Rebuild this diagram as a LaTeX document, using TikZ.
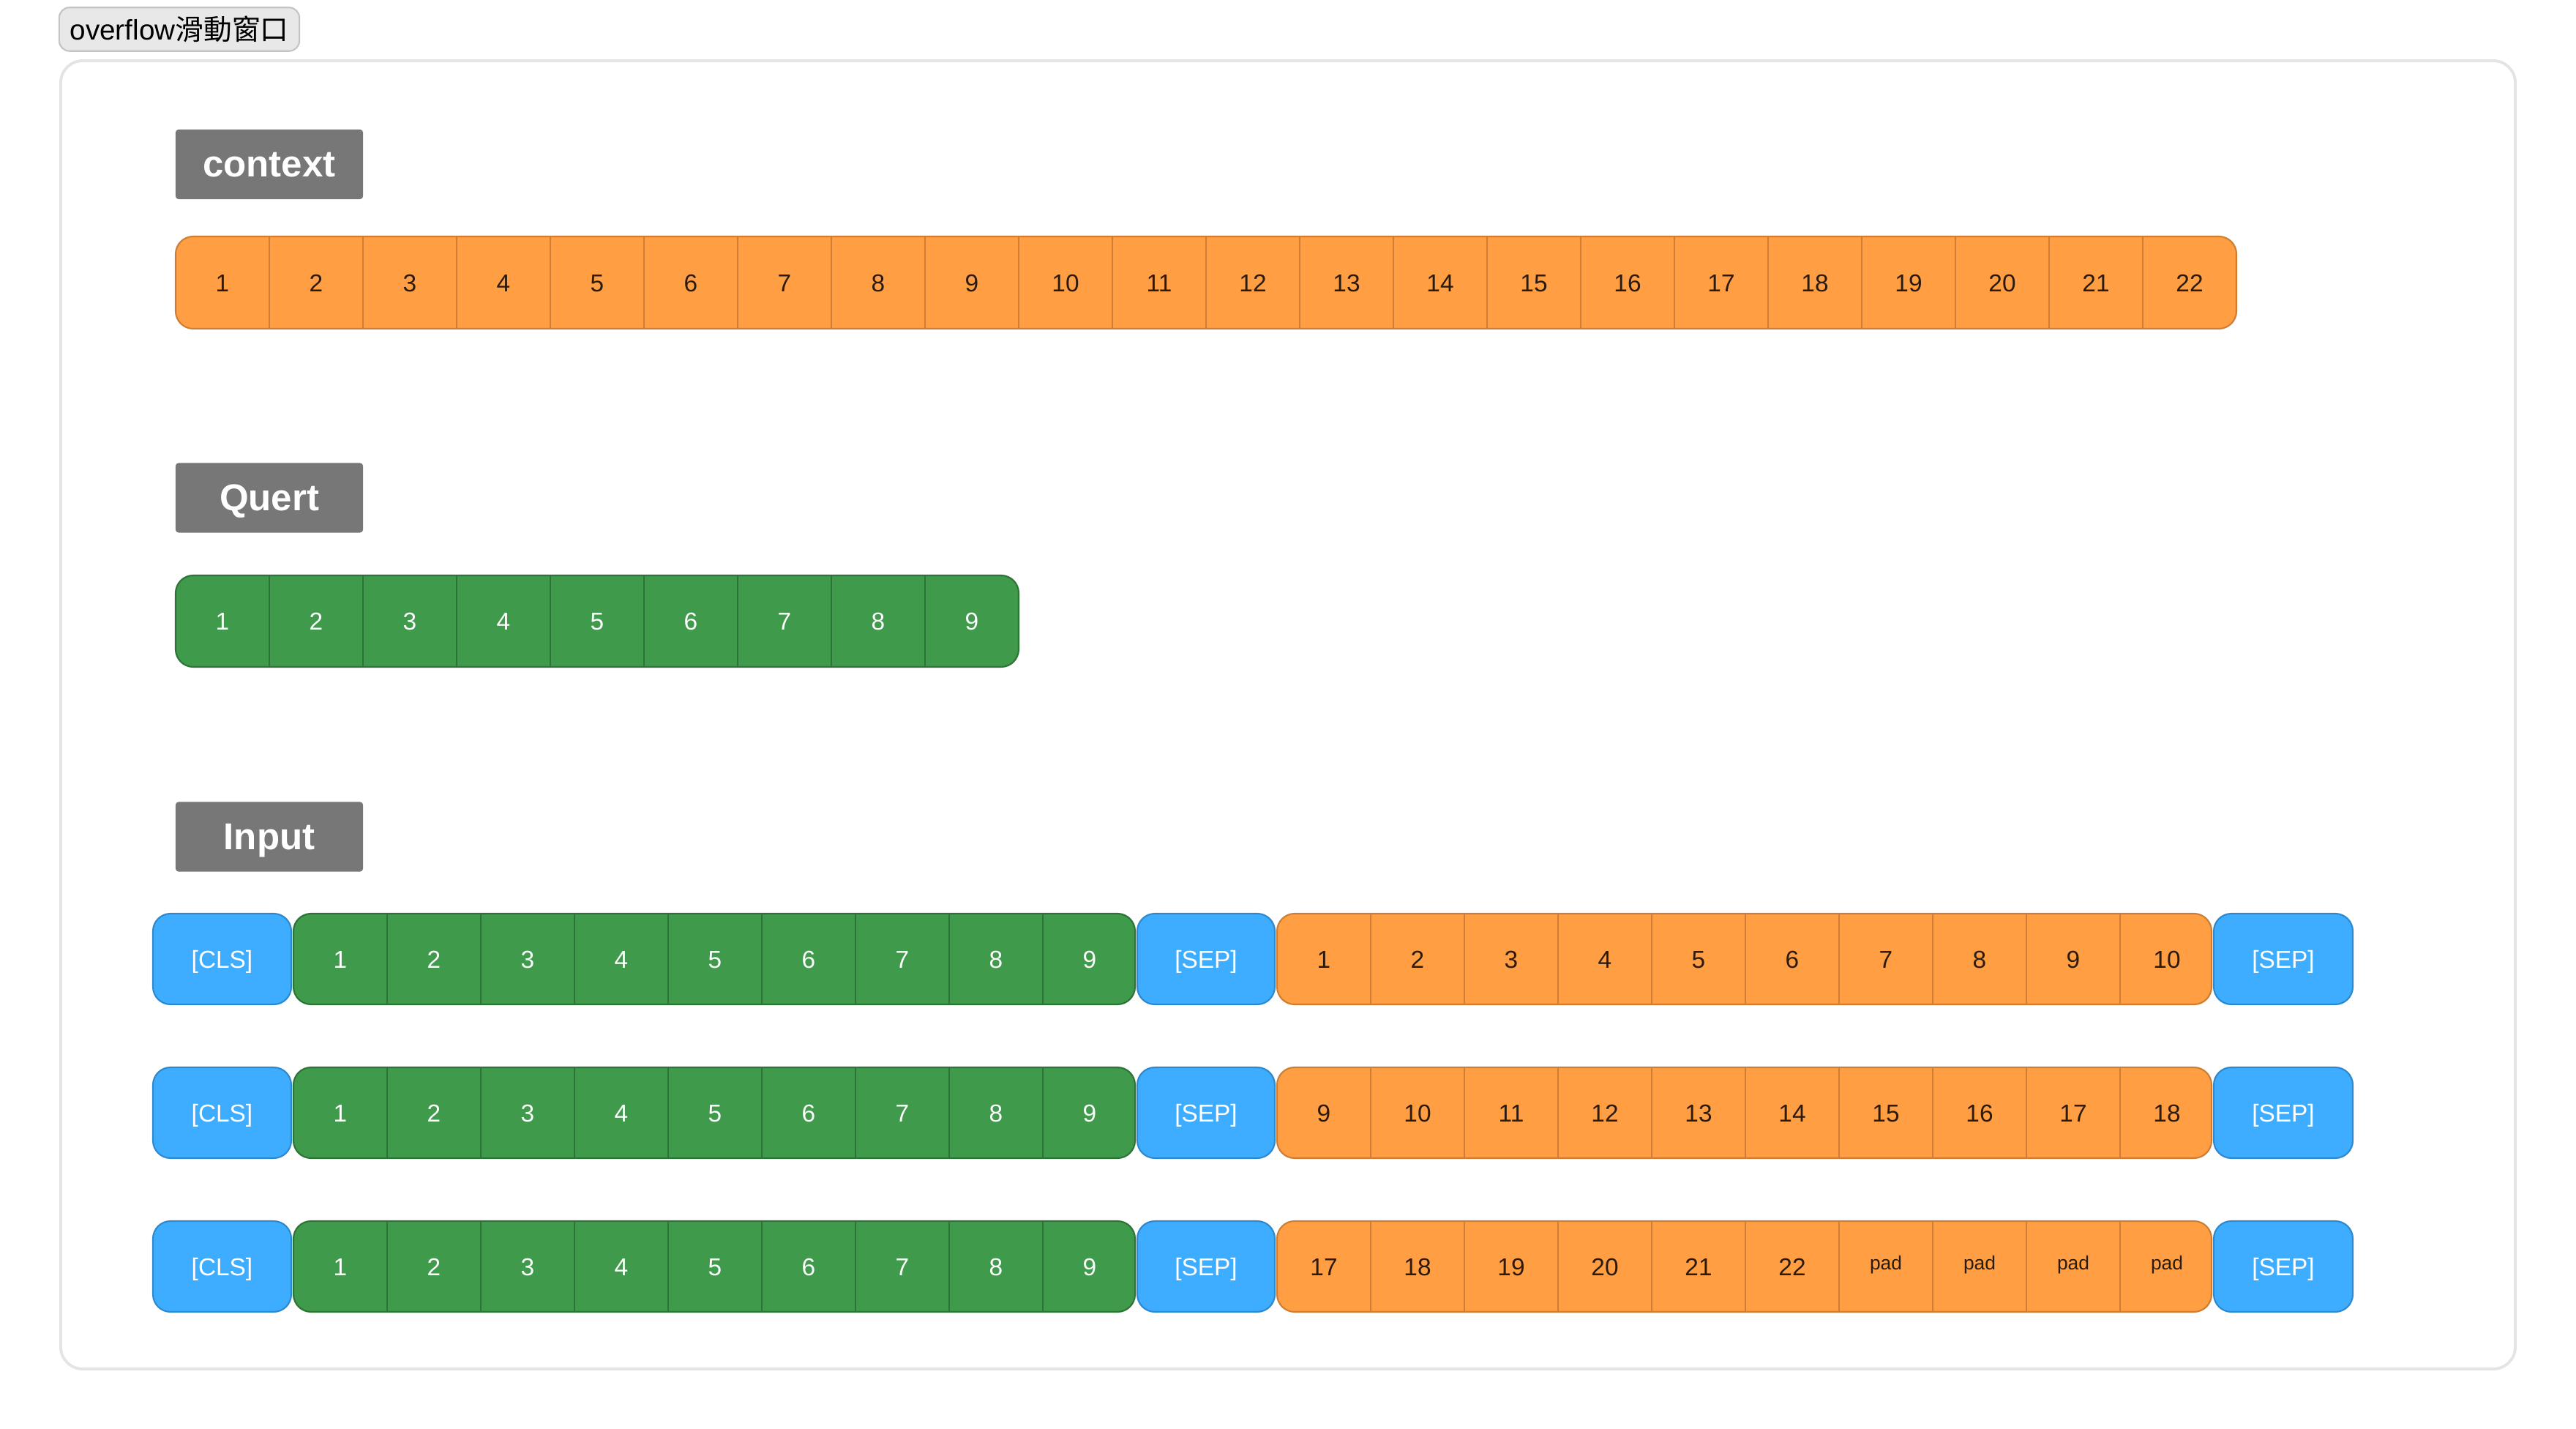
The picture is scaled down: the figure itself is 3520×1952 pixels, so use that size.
\documentclass[tikz,border=0pt]{standalone}
\usepackage{fontspec}
\setmainfont{Liberation Sans}
\newfontfamily\cjkfont{Noto Sans CJK TC}

\definecolor{ctxfill}{HTML}{FF9E43}
\definecolor{ctxline}{HTML}{CD7E34}
\definecolor{qfill}{HTML}{3F9B4B}
\definecolor{qline}{HTML}{2D7336}
\definecolor{tokfill}{HTML}{3FADFF}
\definecolor{tokline}{HTML}{2E88CE}
\definecolor{headfill}{HTML}{777777}
\definecolor{framegray}{HTML}{E4E4E4}
\definecolor{tagfill}{HTML}{E8E8E8}
\definecolor{tagline}{HTML}{C4C4C4}
\definecolor{numdark}{HTML}{2B1B0E}

\tikzset{
  headbox/.style={fill=headfill, rounded corners=0.04cm, minimum width=2.56cm,
    minimum height=0.95cm, text=white, text height=9.8pt, text depth=0pt,
    font=\fontsize{14.5}{16}\selectfont\bfseries},
  ctxblock/.style={fill=ctxfill, draw=ctxline, line width=0.6pt, rounded corners=0.24cm},
  qblock/.style={fill=qfill, draw=qline, line width=0.6pt, rounded corners=0.24cm},
  tokblock/.style={fill=tokfill, draw=tokline, line width=0.6pt, rounded corners=0.24cm},
  cellnum/.style={text height=6.9pt, text depth=0pt, font=\fontsize{9.5}{11}\selectfont},
  ctxnum/.style={cellnum, text=numdark},
  padnum/.style={text=numdark, font=\fontsize{7.5}{9}\selectfont},
  qnum/.style={cellnum, text=white},
  toknum/.style={cellnum, text=white},
}

\begin{document}
\begin{tikzpicture}[x=0.01cm, y=-0.01cm]
  \useasboundingbox (0,0) rectangle (3520,1952);
  % ==== TAG AND FRAME ====
  \node[fill=tagfill, draw=tagline, line width=0.6pt, rounded corners=0.14cm,
    minimum width=3.28cm, minimum height=0.54cm,
    font=\fontsize{11}{13}\selectfont] (tag) at (245,40) {overflow{\cjkfont 滑動窗口}};
  \draw[framegray, line width=1.1pt, rounded corners=0.3cm] (83,83) rectangle (3437,1870);

  % ==== CONTEXT ====
  \node[headbox] (ctxhead) at (368,224.5) {context};
  \draw[ctxblock] (240,323) rectangle (3056,449);
  \foreach \i in {1,...,21}
    \draw[ctxline, line width=0.6pt] (240+\i*128,323) -- (240+\i*128,449);
  \foreach \i in {1,...,22}
    \node[ctxnum] (ctx-\i) at (176+\i*128,386) {\i};

  % ==== QUERY ====
  \node[headbox] (qhead) at (368,680) {Quert};
  \draw[qblock] (240,786) rectangle (1392,911);
  \foreach \i in {1,...,8}
    \draw[qline, line width=0.6pt] (240+\i*128,786) -- (240+\i*128,911);
  \foreach \i in {1,...,9}
    \node[qnum] (q-\i) at (176+\i*128,848.5) {\i};

  % ==== INPUT ====
  \node[headbox] (inhead) at (368,1143) {Input};
  \foreach \r in {1,2,3} {
    \pgfmathsetmacro{\top}{1038+\r*210}
    \pgfmathsetmacro{\bot}{\top+124}
    \pgfmathsetmacro{\mid}{\top+62}
    % [CLS] + query
    \draw[tokblock] (209,\top) rectangle (398,\bot);
    \node[toknum] (cls-\r) at (303.5,\mid) {[CLS]};
    \draw[qblock] (401,\top) rectangle (1551,\bot);
    \foreach \i in {1,...,8}
      \draw[qline, line width=0.6pt] (401+\i*128,\top) -- (401+\i*128,\bot);
    \foreach \i in {1,...,9}
      \node[qnum] (in\r-q-\i) at (337+\i*128,\mid) {\i};
    % [SEP] + context window
    \draw[tokblock] (1554,\top) rectangle (1742,\bot);
    \node[toknum] (sepa-\r) at (1648,\mid) {[SEP]};
    \draw[ctxblock] (1745,\top) rectangle (3022,\bot);
    \foreach \i in {1,...,9}
      \draw[ctxline, line width=0.6pt] (1745+\i*128,\top) -- (1745+\i*128,\bot);
    \draw[tokblock] (3025,\top) rectangle (3215,\bot);
    \node[toknum] (sepb-\r) at (3120,\mid) {[SEP]};
  }
  % window contents
  \foreach \lab [count=\i] in {1,2,3,4,5,6,7,8,9,10}
    \node[ctxnum] (in1-c-\i) at (1681+\i*128,1310) {\lab};
  \foreach \lab [count=\i] in {9,10,11,12,13,14,15,16,17,18}
    \node[ctxnum] (in2-c-\i) at (1681+\i*128,1520) {\lab};
  \foreach \lab [count=\i] in {17,18,19,20,21,22}
    \node[ctxnum] (in3-c-\i) at (1681+\i*128,1730) {\lab};
  \foreach \i in {7,...,10}
    \node[padnum] (in3-c-\i) at (1681+\i*128,1728) {pad};
\end{tikzpicture}
\end{document}
